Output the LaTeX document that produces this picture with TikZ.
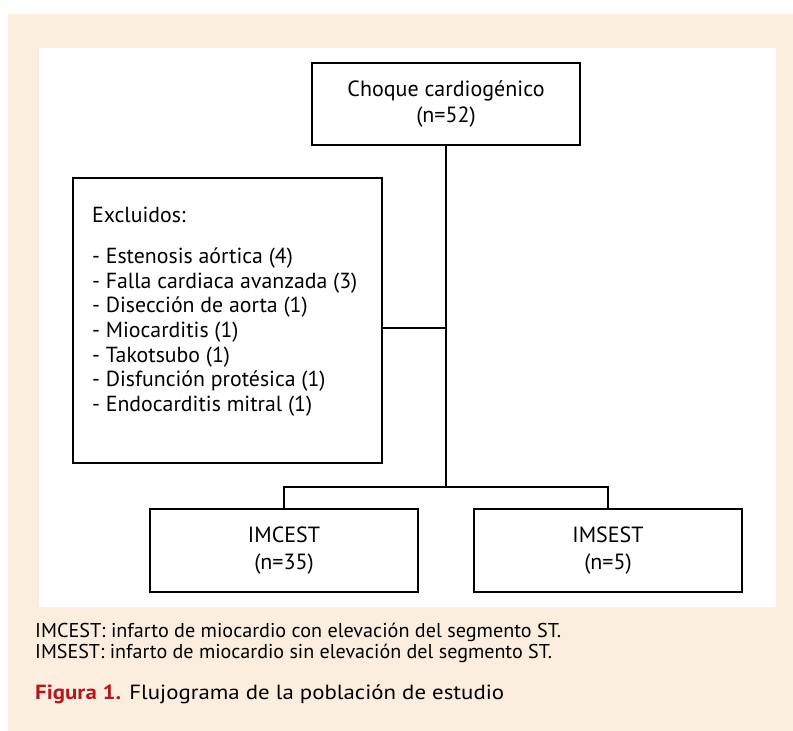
\documentclass[tikz,border=0pt]{standalone}
\usepackage{fontspec}
\usepackage{graphicx}
\setmainfont{PT Sans}
\definecolor{peach}{RGB}{252,238,222}
\definecolor{figred}{RGB}{178,24,30}
\begin{document}
\begin{tikzpicture}[x=1pt,y=-1pt,
  box/.style={draw=black,line width=1.5pt,fill=white,inner sep=0pt,align=center,font=\fontsize{22}{26.5}\selectfont},
  link/.style={draw=black,line width=1.2pt},
  capline/.style={anchor=base west,inner sep=0pt}]
\useasboundingbox (0,0) rectangle (793,731);
\fill[peach] (8,14) rectangle (793,731);
\fill[white] (39,48) rectangle (776,607);
\node[box,minimum width=268pt,minimum height=82pt] (top) at (446,104) {Choque cardiogénico\\(n=52)};
\node[box,minimum width=309pt,minimum height=285pt] (excl) at (227.5,320.5) {};
\node[anchor=north west,inner sep=0pt,align=left,font=\fontsize{21.8}{24.7}\selectfont] (excltext) at (92,207)
  {Excluidos:\\[16pt]
  - Estenosis aórtica (4)\\
  - Falla cardiaca avanzada (3)\\
  - Disección de aorta (1)\\
  - Miocarditis (1)\\
  - Takotsubo (1)\\
  - Disfunción protésica (1)\\
  - Endocarditis mitral (1)};
\node[box,minimum width=268pt,minimum height=83pt] (imc) at (284,550.5) {IMCEST\\(n=35)};
\node[box,minimum width=268pt,minimum height=83pt] (ims) at (608,550.5) {IMSEST\\(n=5)};
\coordinate (split) at (446,487);
\draw[link] (top.south) -- (split);
\draw[link] ([yshift=-7.5pt]excl.east) -- ([yshift=-7.5pt]excl.east -| top.south);
\draw[link] (imc.north) |- (split) -| (ims.north);
\node[capline] (abbr1) at (35,637)
  {\resizebox{526pt}{\height}{\fontsize{20}{24}\selectfont IMCEST: infarto de miocardio con elevación del segmento ST.}};
\node[capline] (abbr2) at (35,658)
  {\resizebox{517pt}{\height}{\fontsize{20}{24}\selectfont IMSEST: infarto de miocardio sin elevación del segmento ST.}};
\node[capline] (cap) at (35,699)
  {\resizebox{469pt}{\height}{\fontsize{20.5}{24}\selectfont\textcolor{figred}{\bfseries Figura 1.} Flujograma de la población de estudio}};
\end{tikzpicture}
\end{document}
